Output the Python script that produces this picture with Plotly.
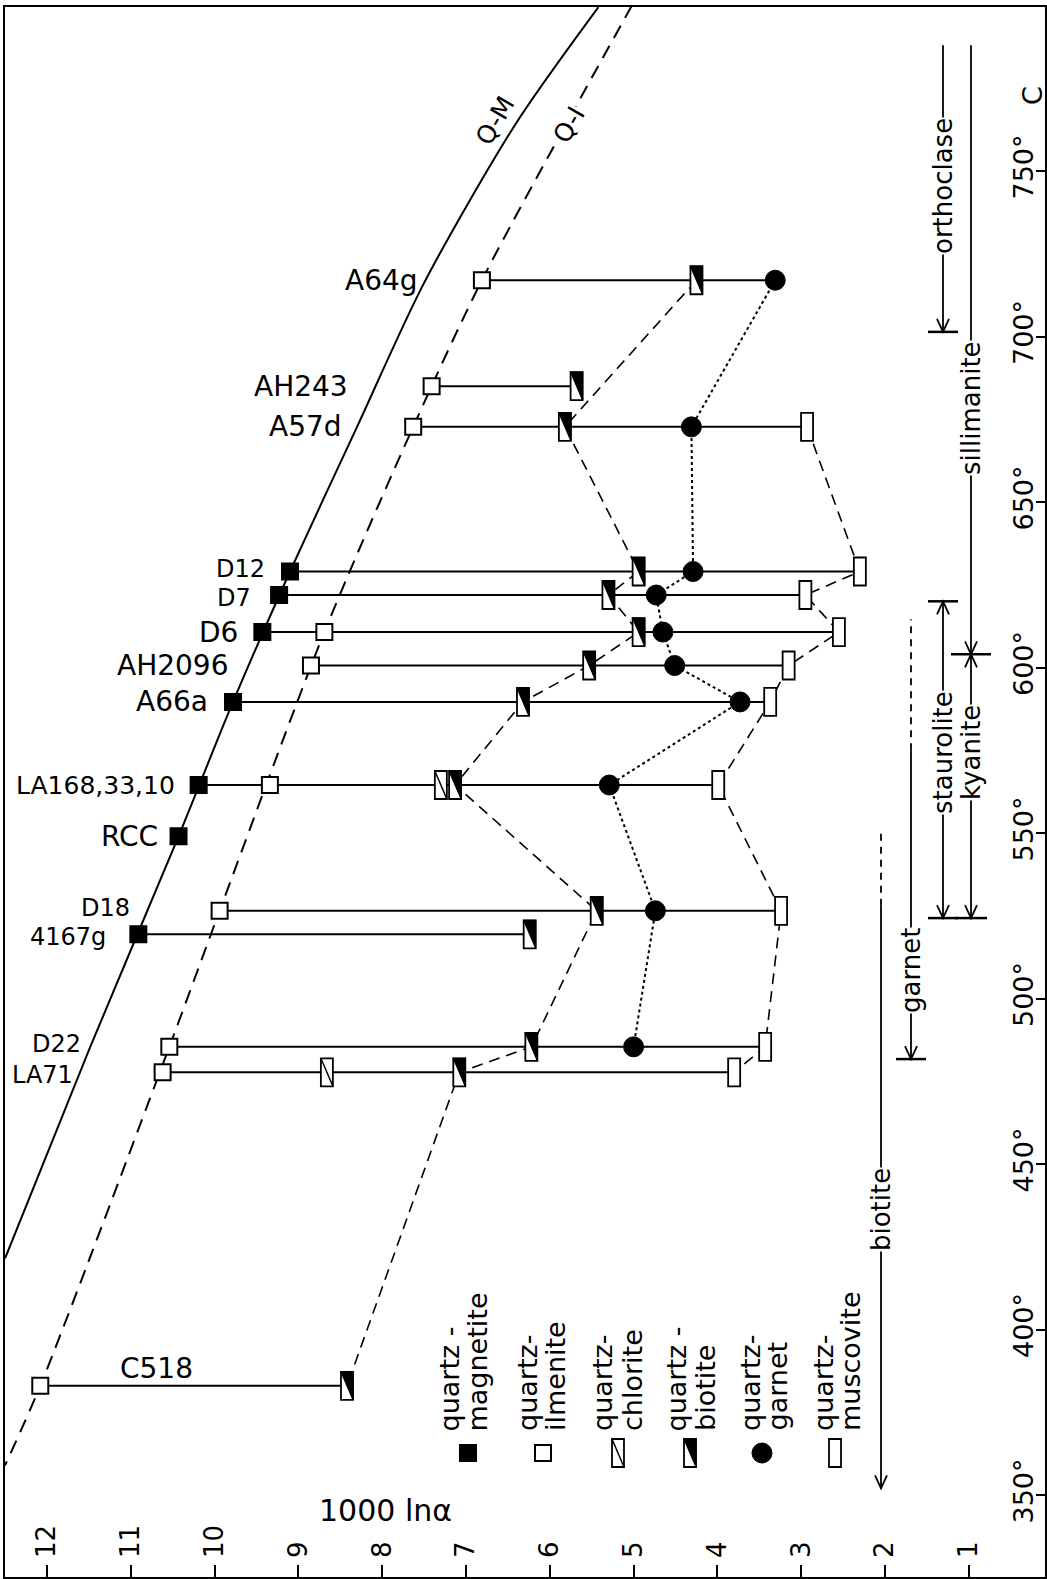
import plotly.graph_objects as go

# ---------------- data ----------------
samples = ["A64g", "AH243", "A57d", "D12", "D7", "D6", "AH2096", "A66a",
           "LA168,33,10", "RCC", "D18", "4167g", "D22", "LA71", "C518"]
temperature = [717, 685, 672.7, 629, 621.9, 610.7, 600.6, 589.6,
               564.5, 549, 526.5, 519.4, 485.4, 477.7, 383]
magnetite = [None, None, None, 9.10, 9.23, 9.43, None, 9.78, 10.19, 10.43, None, 10.91, None, None, None]
ilmenite = [6.81, 7.41, 7.63, None, None, 8.69, 8.85, None, 9.34, None, 9.94, None, 10.54, 10.62, 12.08]
chlorite = [None, None, None, None, None, None, None, None, 7.30, None, None, None, None, 8.66, None]
biotite = [4.25, 5.68, 5.82, 4.94, 5.30, 4.94, 5.53, 6.32, 7.13, None, 5.44, 6.24, 6.22, 7.08, 8.42]
garnet = [3.31, None, 4.31, 4.29, 4.73, 4.65, 4.51, 3.73, 5.29, None, 4.74, None, 5.00, None, None]
muscovite = [None, None, 2.93, 2.30, 2.95, 2.55, 3.15, 3.37, 3.99, None, 3.24, None, 3.43, 3.80, None]
biotite_trend = ["A64g", "A57d", "D12", "D7", "D6", "AH2096", "A66a",
                 "LA168,33,10", "D18", "D22", "LA71", "C518"]

qm_lnalpha = [5.42, 6.40, 7.50, 8.30, 9.10, 9.78, 10.43, 11.49, 12.50]
qm_temp = [799.5, 764.5, 716.2, 672.7, 629.0, 589.6, 549.0, 485.0, 421.5]
qi_lnalpha = [5.02, 6.81, 7.63, 8.69, 9.94, 10.54, 12.08, 12.50]
qi_temp = [800.0, 717.0, 672.7, 610.7, 526.5, 485.4, 383.0, 359.0]

ln_ticks = list(range(1, 13))
temp_ticks = [350, 400, 450, 500, 550, 600, 650, 700, 750]
temp_ticktext = ["350°", "400°", "450°", "500°", "550°", "600°", "650°", "700°", "750°"]

zone_names = ["orthoclase", "sillimanite", "staurolite", "kyanite", "garnet", "biotite"]
zone_low = [701.4, 604.0, 524.3, 524.3, 481.7, 352.0]
zone_high = [788.0, 788.0, 620.0, 604.0, 614.6, 550.6]

legend_minerals = ["magnetite", "ilmenite", "chlorite", "biotite", "garnet", "muscovite"]

# ---------------- layout helpers ----------------
FONT = "DejaVu Sans"
W, H = 1047, 1579
X_RANGE = [12.501, 0.0907]
Y_RANGE = [325.23, 799.55]


def vx(px):
    return 12 - (px - 47) / 83.8


def ty(py):
    return 350 + (1495 - py) / 3.31


fig = go.Figure()
shapes = []
ann = []


def add_text(x, y, s, size=26, angle=0, xanchor="center", yanchor="middle", bg=None,
             align="center", yshift=0):
    d = dict(x=x, y=y, xref="x", yref="y", text=s, showarrow=False, textangle=angle,
             xanchor=xanchor, yanchor=yanchor, align=align, yshift=yshift,
             font=dict(family=FONT, size=size, color="black"))
    if bg:
        d.update(bgcolor=bg, borderpad=0)
    ann.append(d)


def anchored(v, t):
    return dict(xref="x", yref="y", xsizemode="pixel", ysizemode="pixel",
                xanchor=v, yanchor=t, layer="above")


def rect_marker(v, t, kind):
    c = anchored(v, t)
    shapes.append(dict(type="rect", x0=-6, x1=6, y0=-14, y1=14, fillcolor="white",
                       line=dict(color="black", width=1.8), **c))
    if kind == "biotite":
        shapes.append(dict(type="path", path="M -6,14 L 6,14 L 6,-14 Z", fillcolor="black",
                           line=dict(color="black", width=1.2), **c))
    if kind == "chlorite":
        shapes.append(dict(type="path", path="M -6,14 L 6,-14",
                           line=dict(color="black", width=1.5), **c))


def square_marker(v, t, filled):
    shapes.append(dict(type="rect", x0=-8, x1=8, y0=-8, y1=8,
                       fillcolor="black" if filled else "white",
                       line=dict(color="black", width=2), **anchored(v, t)))


def circle_marker(v, t):
    shapes.append(dict(type="circle", x0=-10, x1=10, y0=-10, y1=10, fillcolor="black",
                       line=dict(color="black", width=1), **anchored(v, t)))


# ---------------- sample lines ----------------
for t, *vals in zip(temperature, magnetite, ilmenite, chlorite, biotite, garnet, muscovite):
    pts = [v for v in vals if v is not None]
    if len(pts) > 1:
        fig.add_trace(go.Scatter(x=[min(pts), max(pts)], y=[t, t], mode="lines",
                                 line=dict(color="black", width=2), hoverinfo="skip"))


# ---------------- trend connectors ----------------
def chain(values, names=None):
    xs, ys = [], []
    for s, t, v in zip(samples, temperature, values):
        if v is None or (names is not None and s not in names):
            continue
        xs.append(v)
        ys.append(t)
    return xs, ys


bx, by = chain(biotite, biotite_trend)
fig.add_trace(go.Scatter(x=bx, y=by, mode="lines", line=dict(color="black", width=1.6, dash="11px,7px")))
gx, gy = chain(garnet)
fig.add_trace(go.Scatter(x=gx, y=gy, mode="lines", line=dict(color="black", width=2, dash="3px,3px")))
mx, my = chain(muscovite)
fig.add_trace(go.Scatter(x=mx, y=my, mode="lines", line=dict(color="black", width=1.6, dash="11px,7px")))

# ---------------- calibration curves ----------------
fig.add_trace(go.Scatter(x=qm_lnalpha, y=qm_temp, mode="lines", line_shape="spline",
                         line=dict(color="black", width=2, smoothing=0.8)))
fig.add_trace(go.Scatter(x=qi_lnalpha, y=qi_temp, mode="lines", line_shape="spline",
                         line=dict(color="black", width=2, dash="14px,9px", smoothing=0.8)))

# ---------------- markers ----------------
for t, v in zip(temperature, magnetite):
    if v is not None:
        square_marker(v, t, True)
for t, v in zip(temperature, ilmenite):
    if v is not None:
        square_marker(v, t, False)
for t, v in zip(temperature, chlorite):
    if v is not None:
        rect_marker(v, t, "chlorite")
for t, v in zip(temperature, biotite):
    if v is not None:
        rect_marker(v, t, "biotite")
for t, v in zip(temperature, garnet):
    if v is not None:
        circle_marker(v, t)
for t, v in zip(temperature, muscovite):
    if v is not None:
        rect_marker(v, t, "muscovite")

# ---------------- sample labels ----------------
label_right = [7.55, 8.38, 8.46, 9.37, 9.54, 9.70, 9.82, 10.05, 10.45, 10.65, 10.99, 11.27, 11.57, 11.67]
label_size = [28, 28, 28, 24, 24, 28, 28, 28, 25, 28, 24, 24, 24, 24]
label_shift = [0, 0, 0, 3, -3, 0, 0, 0, 0, 0, 3, -3, 3, -3]
for s, t, lx, fs, sh in zip(samples, temperature, label_right, label_size, label_shift):
    add_text(lx, t, s, size=fs, xanchor="right", yshift=sh)
add_text(vx(157), ty(1368), samples[-1], size=28)

add_text(vx(495), ty(120), "Q-M", size=25, angle=-60)
add_text(vx(569), ty(124), "Q-I", size=25, angle=-60, bg="white")

# ---------------- metamorphic zones (right side) ----------------
col = {"orthoclase": vx(943), "sillimanite": vx(971), "staurolite": vx(943),
       "kyanite": vx(971), "garnet": vx(911), "biotite": vx(881)}
text_t = {"orthoclase": ty(186), "sillimanite": ty(408), "staurolite": ty(753),
          "kyanite": ty(753), "garnet": ty(971), "biotite": ty(1210)}
dashed_from = {"garnet": 575.0, "biotite": 528.0}
arrow_up = {"staurolite", "kyanite"}
arrow_down = {"orthoclase", "sillimanite", "staurolite", "kyanite", "garnet", "biotite"}
bars = {"orthoclase": 15, "staurolite": 15, "kyanite": 16, "garnet": 15}
top_bar = {"staurolite": 15, "sillimanite": 20}


def vline(v, t0, t1, dash=None):
    ln = dict(color="black", width=1.8)
    if dash:
        ln["dash"] = dash
    shapes.append(dict(type="line", xref="x", yref="y", x0=v, x1=v, y0=t0, y1=t1, line=ln, layer="above"))


def hbar(v, t, half):
    shapes.append(dict(type="line", xref="x", yref="y", xsizemode="pixel", xanchor=v,
                       x0=-half, x1=half, y0=t, y1=t, line=dict(color="black", width=2.5), layer="above"))


def arrowhead(v, t, down=True):
    p = "M -6,13 L 0,0 L 6,13" if down else "M -6,-13 L 0,0 L 6,-13"
    shapes.append(dict(type="path", path=p, line=dict(color="black", width=1.8), **anchored(v, t)))


for name, lo, hi in zip(zone_names, zone_low, zone_high):
    v = col[name]
    if name in dashed_from:
        vline(v, lo, dashed_from[name])
        vline(v, dashed_from[name], hi, dash="7px,6px")
    else:
        vline(v, lo, hi)
    if name in arrow_down:
        arrowhead(v, lo, True)
    if name in arrow_up:
        arrowhead(v, hi, False)
    if name in bars:
        hbar(v, lo, bars[name])
    if name in top_bar:
        hbar(v, lo if name == "sillimanite" else hi, top_bar[name])
    add_text(v, text_t[name], name, size=26, angle=-90, bg="white")

# ---------------- legend ----------------
leg_sym_x = [468, 543, 618, 690, 762, 835]
leg_line1 = ["quartz -", "quartz-", "quartz-", "quartz -", "quartz-", "quartz-"]
leg_line1_x = [450, 527, 602, 677, 750, 823]
leg_line2_x = [478, 555, 632, 705, 778, 850]
for m, sx, l1, x1, x2 in zip(legend_minerals, leg_sym_x, leg_line1, leg_line1_x, leg_line2_x):
    v, t = vx(sx), ty(1453)
    if m == "magnetite":
        square_marker(v, t, True)
    elif m == "ilmenite":
        square_marker(v, t, False)
    elif m == "garnet":
        circle_marker(v, t)
    else:
        rect_marker(v, t, m)
    add_text(vx(x1), ty(1433), l1, size=27, angle=-90, yanchor="bottom")
    add_text(vx(x2), ty(1433), m, size=27, angle=-90, yanchor="bottom")

add_text(vx(386), ty(1510), "1000 lnα", size=30)
add_text(vx(1032), ty(96), "C", size=27, angle=-90)

# ---------------- axes & layout ----------------
fig.update_xaxes(range=X_RANGE, tickvals=ln_ticks, ticktext=[str(t) for t in ln_ticks],
                 ticks="inside", ticklen=12, tickwidth=2, tickcolor="black",
                 ticklabelposition="inside", tickangle=-90,
                 tickfont=dict(family=FONT, size=26, color="black"),
                 showline=True, linecolor="black", linewidth=2, mirror=True,
                 showgrid=False, zeroline=False)
fig.update_yaxes(range=Y_RANGE, side="right", tickvals=temp_ticks, ticktext=temp_ticktext,
                 ticks="inside", ticklen=9, tickwidth=2, tickcolor="black",
                 ticklabelposition="inside", tickangle=-90,
                 tickfont=dict(family=FONT, size=27, color="black"),
                 showline=True, linecolor="black", linewidth=2, mirror=True,
                 showgrid=False, zeroline=False)
fig.update_layout(width=W, height=H, margin=dict(l=5, r=2, t=7, b=2, pad=0),
                  plot_bgcolor="white", paper_bgcolor="white", showlegend=False,
                  shapes=shapes, annotations=ann)

fig.write_html("out.html")
